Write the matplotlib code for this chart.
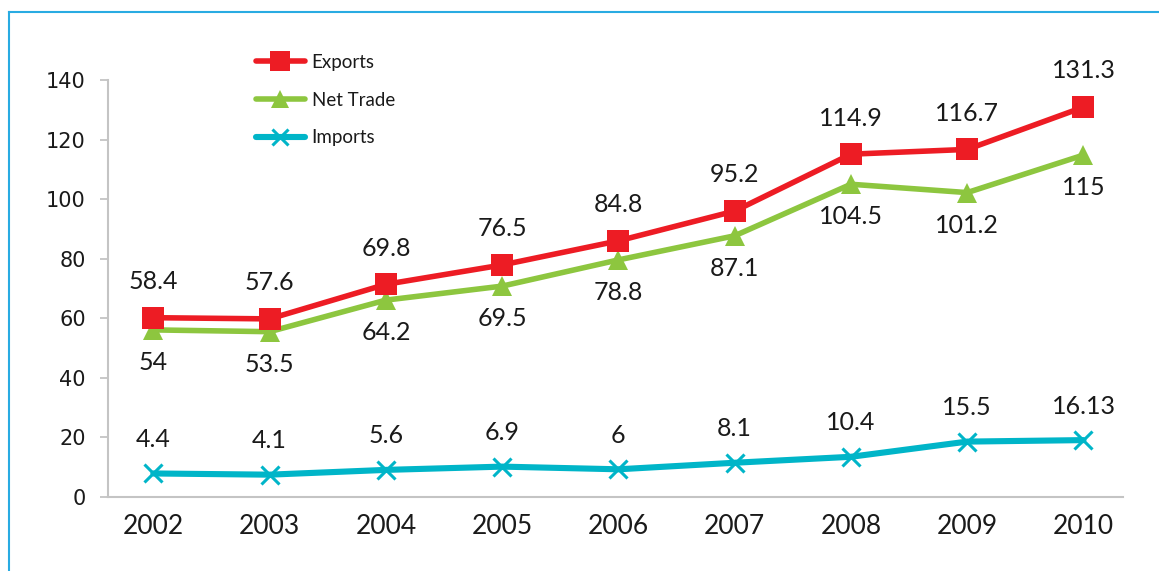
import matplotlib
matplotlib.use("Agg")
import matplotlib.pyplot as plt
from matplotlib.lines import Line2D

years = ["2002", "2003", "2004", "2005", "2006", "2007", "2008", "2009", "2010"]

# plotted positions
exports = [60.2, 59.8, 71.4, 77.9, 86.0, 96.0, 115.1, 116.7, 130.9]
net_trade = [56.1, 55.5, 66.1, 70.8, 79.6, 87.7, 105.0, 102.2, 114.8]
imports = [7.9, 7.5, 9.1, 10.2, 9.3, 11.5, 13.5, 18.6, 19.1]

# data label texts as printed on the chart
exports_labels = ["58.4", "57.6", "69.8", "76.5", "84.8", "95.2", "114.9", "116.7", "131.3"]
net_trade_labels = ["54", "53.5", "64.2", "69.5", "78.8", "87.1", "104.5", "101.2", "115"]
imports_labels = ["4.4", "4.1", "5.6", "6.9", "6", "8.1", "10.4", "15.5", "16.13"]

yticks = [0, 20, 40, 60, 80, 100, 120, 140]

RED = "#ed1c24"
GREEN = "#8dc63f"
CYAN = "#00b5c8"
BORDER = "#29abe2"
TXT = "#1a1a1a"

plt.rcParams["font.family"] = ["Lato", "DejaVu Sans"]

W, H = 1159, 571
fig = plt.figure(figsize=(W / 100, H / 100), dpi=100)
ax = fig.add_axes([108 / W, 1 - 497 / H, (1123 - 108) / W, (497 - 80) / H])

x = list(range(len(years)))
l1, = ax.plot(x, exports, color=RED, lw=4.0, marker="s", ms=16.5, mfc=RED, mec=RED, mew=0,
              solid_joinstyle="round", solid_capstyle="round", zorder=3)
l2, = ax.plot(x, net_trade, color=GREEN, lw=4.0, marker="^", ms=15, mfc=GREEN, mec=GREEN, mew=0,
              solid_joinstyle="round", solid_capstyle="round", zorder=2)
l3, = ax.plot(x, imports, color=CYAN, lw=4.4, marker="x", ms=13, mew=2.2, mec=CYAN,
              solid_joinstyle="round", solid_capstyle="round", zorder=2)

fs = 18
for xi, v, t in zip(x, exports, exports_labels):
    ax.annotate(t, (xi, v), xytext=(0, 26), textcoords="offset points",
                ha="center", va="center", fontsize=fs, color=TXT)
for xi, v, t in zip(x, net_trade, net_trade_labels):
    ax.annotate(t, (xi, v), xytext=(0, -23.5), textcoords="offset points",
                ha="center", va="center", fontsize=fs, color=TXT)
for xi, v, t in zip(x, imports, imports_labels):
    ax.annotate(t, (xi, v), xytext=(0, 24.5), textcoords="offset points",
                ha="center", va="center", fontsize=fs, color=TXT)

ax.set_xlim(-0.39, 8.34)
ax.set_ylim(0, 140)
ax.set_yticks(yticks)
ax.set_xticks(x)
ax.set_xticklabels(years, fontsize=19)
ax.set_yticklabels([str(v) for v in yticks], family="DejaVu Sans", fontsize=15)
ax.tick_params(axis="y", length=6, width=1.2, color="#bfbfbf", direction="out",
               labelcolor=TXT, pad=10)
ax.tick_params(axis="x", length=0, labelcolor=TXT, pad=12)
for s in ["top", "right"]:
    ax.spines[s].set_visible(False)
for s in ["left", "bottom"]:
    ax.spines[s].set_color("#c4c4c4")
    ax.spines[s].set_linewidth(1.5)

leg = ax.legend([l1, l2, l3], ["Exports", "Net Trade", "Imports"],
                loc="upper left", bbox_to_anchor=(256 / W, 1 - 54 / H),
                bbox_transform=fig.transFigure, frameon=False, fontsize=13.5,
                handlelength=2.6, handletextpad=0.37, labelspacing=1.1,
                borderpad=0, borderaxespad=0, markerscale=0.85)
for t in leg.get_texts():
    t.set_color(TXT)

# cyan frame lines along the top and left
fig.add_artist(Line2D([9 / W, 1.0], [1 - 12 / H, 1 - 12 / H], transform=fig.transFigure,
                      color=BORDER, lw=1.5))
fig.add_artist(Line2D([9 / W, 9 / W], [0, 1 - 12 / H], transform=fig.transFigure,
                      color=BORDER, lw=1.5))

fig.savefig("out.png", dpi=100)
